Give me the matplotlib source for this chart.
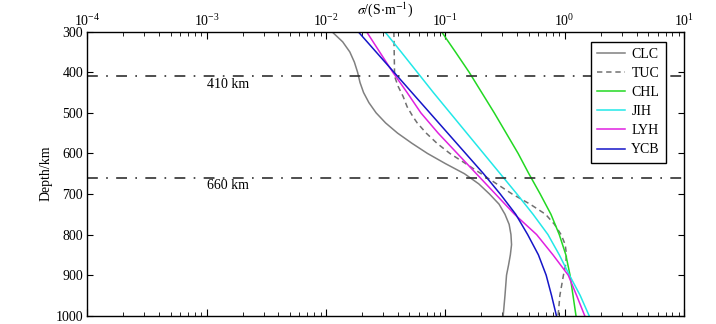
import numpy as np
import matplotlib
matplotlib.use("Agg")
import matplotlib.pyplot as plt

plt.rcParams['font.family'] = ['Liberation Serif', 'DejaVu Serif']
plt.rcParams['mathtext.fontset'] = 'stix'

# ---- data (log10 of conductivity, S/m) ----
depth_clc = [300, 325, 350, 375, 400, 425, 450, 475, 500, 525, 550, 575, 600, 625,
             650, 675, 700, 725, 750, 775, 800, 825, 850, 875, 900, 950, 1000]
clc_log = [-1.95, -1.86, -1.80, -1.762, -1.735, -1.715, -1.685, -1.64, -1.58, -1.50,
           -1.40, -1.28, -1.15, -1.00, -0.84, -0.72, -0.63, -0.55, -0.50, -0.465,
           -0.45, -0.445, -0.455, -0.47, -0.487, -0.50, -0.515]

depth_tuc = [300, 410, 435, 460, 485, 510, 525, 550, 575, 600, 625, 650, 675, 700,
             725, 750, 775, 800, 825, 850, 875, 900, 950, 1000]
tuc_log = [-1.431, -1.425, -1.395, -1.353, -1.32, -1.27, -1.235, -1.16, -1.07, -0.962,
           -0.83, -0.70, -0.57, -0.44, -0.29, -0.16, -0.085, -0.03, 0.005, 0.015,
           0.008, -0.01, -0.04, -0.055]

depth_std = [300, 350, 400, 450, 500, 550, 600, 650, 700, 750, 800, 850, 900, 950, 1000]
chl_log = [-1.032, -0.915, -0.80, -0.695, -0.59, -0.49, -0.39, -0.30, -0.205, -0.115,
           -0.045, 0.01, 0.045, 0.07, 0.095]
jih_log = [-1.507, -1.37, -1.235, -1.10, -0.96, -0.82, -0.68, -0.54, -0.40, -0.265,
           -0.14, -0.045, 0.04, 0.13, 0.205]
lyh_log = [-1.66, -1.55, -1.44, -1.32, -1.205, -1.06, -0.90, -0.74, -0.58, -0.42,
           -0.235, -0.098, 0.03, 0.10, 0.168]
ycb_log = [-1.73, -1.58, -1.43, -1.28, -1.13, -0.98, -0.83, -0.68, -0.54, -0.41,
           -0.31, -0.22, -0.155, -0.11, -0.069]

series_names = ['CLC', 'TUC', 'CHL', 'JIH', 'LYH', 'YCB']
discontinuities = [410, 660]
disc_labels = ['410 km', '660 km']

fig = plt.figure(figsize=(7.16, 3.24), dpi=100)
ax = fig.add_axes([0.1219, 0.0256, 0.8334, 0.8766])

ax.plot(10 ** np.array(clc_log), depth_clc, color='#808080', lw=1.1, label=series_names[0])
ax.plot(10 ** np.array(tuc_log), depth_tuc, color='#707070', lw=1.1,
        ls=(0, (3.5, 2.5)), label=series_names[1])
ax.plot(10 ** np.array(chl_log), depth_std, color='#22d822', lw=1.1, label=series_names[2])
ax.plot(10 ** np.array(jih_log), depth_std, color='#22e8e8', lw=1.1, label=series_names[3])
ax.plot(10 ** np.array(lyh_log), depth_std, color='#e020e0', lw=1.1, label=series_names[4])
ax.plot(10 ** np.array(ycb_log), depth_std, color='#1515c8', lw=1.1, label=series_names[5])

for d, lab in zip(discontinuities, disc_labels):
    ax.axhline(d, color='#303030', lw=1.2, ls=(0, (6.5, 5, 1, 5)))
    ax.text(1e-3, d + 20, lab, ha='left', va='center', fontsize=10)

ax.set_xscale('log')
ax.set_xlim(1e-4, 10)
ax.set_ylim(1000, 300)
ax.set_yticks(np.arange(300, 1001, 100))

ax.xaxis.set_ticks_position('both')
ax.tick_params(axis='x', which='both', direction='in', top=True, bottom=True,
               labeltop=True, labelbottom=False, labelsize=10, pad=2)
ax.tick_params(axis='x', which='major', length=5)
ax.tick_params(axis='x', which='minor', length=3)
ax.tick_params(axis='y', which='both', direction='in', left=True, right=True,
               labelsize=10, length=4, pad=3)
for s in ax.spines.values():
    s.set_linewidth(1.0)

fig.text(0.5385, 1 - 9.5 / 324, r'$\sigma$/(S$\cdot$m$^{-1}$)', ha='center',
         va='center', fontsize=10)
ax.set_ylabel('Depth/km', fontsize=10, labelpad=2)

leg = ax.legend(loc='upper right', bbox_to_anchor=(0.970, 0.965), borderaxespad=0,
                fontsize=10, frameon=True, fancybox=False,
                edgecolor='black', framealpha=1, handlelength=2.0,
                labelspacing=0.44, handletextpad=0.45, borderpad=0.45)
leg.get_frame().set_linewidth(1.0)

fig.savefig('out.png', dpi=100)
